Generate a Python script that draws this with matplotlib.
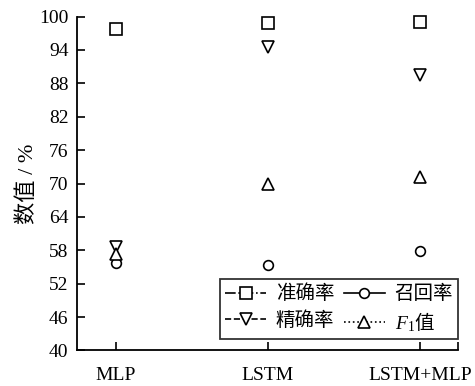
import matplotlib
matplotlib.use("Agg")
import matplotlib.pyplot as plt
from matplotlib.lines import Line2D

# -----------------------------
# data
# -----------------------------
models = ["MLP", "LSTM", "LSTM+MLP"]
accuracy = [97.8, 98.9, 99.0]
precision = [58.6, 94.5, 89.5]
recall = [55.7, 55.4, 57.9]
f1 = [57.3, 69.9, 71.2]
yticks = [40, 46, 52, 58, 64, 70, 76, 82, 88, 94, 100]

plt.rcParams["font.family"] = ["Liberation Serif", "Noto Sans CJK SC"]
plt.rcParams["mathtext.fontset"] = "custom"
plt.rcParams["mathtext.rm"] = "Liberation Serif"
plt.rcParams["mathtext.it"] = "Liberation Serif:italic"

fig = plt.figure(figsize=(4.75, 3.86), dpi=100)
ax = fig.add_axes([0.162, 0.092, 0.802, 0.865])

x = list(range(len(models)))
mk = dict(linestyle="none", mfc="white", mec="black", mew=1.2,
          color="black", clip_on=False)
ax.plot(x, accuracy, marker="s", ms=8, **mk)
ax.plot(x, precision, marker="v", ms=8, **mk)
ax.plot(x, recall, marker="o", ms=7, **mk)
ax.plot(x, f1, marker="^", ms=8, **mk)

ax.set_xlim(-0.255, 2.25)
ax.set_ylim(40, 100)
ax.set_yticks(yticks)
ax.set_xticks(x + [2.25])
ax.set_xticklabels(models + [""])
ax.tick_params(direction="in", length=6, width=1.2, labelsize=14, pad=6)
ax.tick_params(axis="x", pad=12)
for s in ["top", "right"]:
    ax.spines[s].set_visible(False)
for s in ["left", "bottom"]:
    ax.spines[s].set_linewidth(1.3)

ax.set_ylabel("数值 / %", fontsize=16, labelpad=1)

# legend handles with line styles
lk = dict(color="black", mfc="white", mec="black", lw=1.2, mew=1.2)
handles = [
    Line2D([], [], marker="s", ms=8, ls="-.", **lk),
    Line2D([], [], marker="v", ms=8, ls="--", **lk),
    Line2D([], [], marker="o", ms=7, ls="-", **lk),
    Line2D([], [], marker="^", ms=8, ls=":", **lk),
]
labels = ["准确率", "精确率", "召回率", "$F_1$值"]
leg = ax.legend(handles, labels, ncol=2, loc="lower right",
                bbox_to_anchor=(1.0, 0.035), borderaxespad=0,
                prop={"family": "Noto Sans CJK SC", "size": 14},
                frameon=True, fancybox=False, edgecolor="black",
                handlelength=2.1, handletextpad=0.5, columnspacing=0.5,
                labelspacing=0.3, borderpad=0.25)
leg.get_frame().set_linewidth(1.3)

fig.savefig("out.png", dpi=100)
